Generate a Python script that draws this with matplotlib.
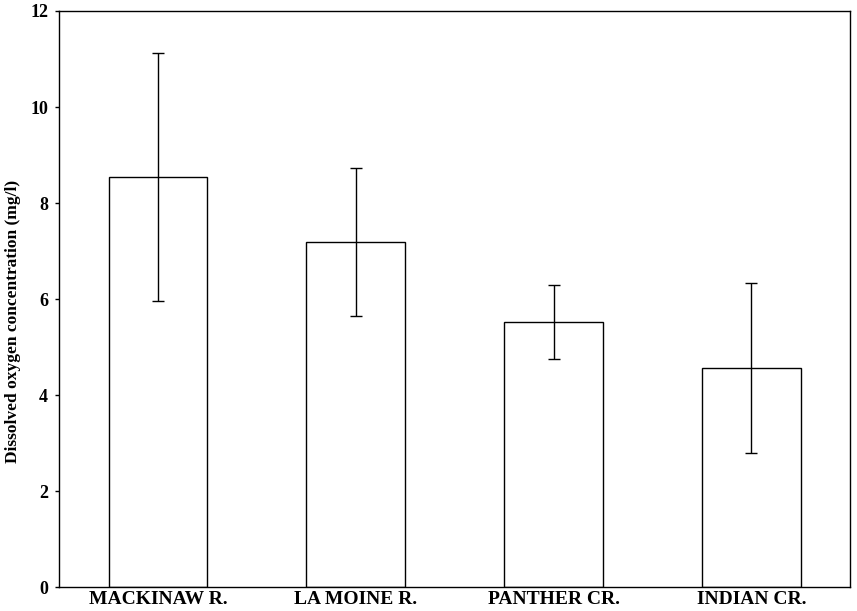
import matplotlib.pyplot as plt

# values
sites = ["MACKINAW R.", "LA MOINE R.", "PANTHER CR.", "INDIAN CR."]
mean_do = [8.55, 7.18, 5.52, 4.56]
err_do = [2.58, 1.54, 0.77, 1.77]

plt.rcParams['font.family'] = ['Liberation Serif', 'DejaVu Serif']
plt.rcParams['font.weight'] = 'bold'

fig = plt.figure(figsize=(8.57, 6.11), dpi=100)
ax = fig.add_axes([0.069, 0.039, 0.923, 0.943])

x = range(len(sites))
ax.bar(x, mean_do, width=0.5, color='white', edgecolor='black', linewidth=1.0,
       yerr=err_do, capsize=4, error_kw=dict(elinewidth=1.0, capthick=1.0, ecolor='black'))

ax.set_xlim(-0.5, 3.5)
ax.set_ylim(0, 12)
ax.set_yticks([0, 2, 4, 6, 8, 10, 12])
ax.set_xticks(list(x))
ax.set_xticklabels(sites, fontsize=14, fontweight='bold')
ax.tick_params(axis='x', length=0, pad=3)
ax.tick_params(axis='y', length=3, width=1, labelsize=13, pad=5)
for lab in ax.get_yticklabels():
    lab.set_fontweight('bold')
ax.set_ylabel("Dissolved oxygen concentration (mg/l)", fontsize=12.5, fontweight='bold')
ax.yaxis.set_label_coords(-0.048, 0.462)

for s in ax.spines.values():
    s.set_linewidth(1.0)

fig.savefig("out.png", dpi=100)
